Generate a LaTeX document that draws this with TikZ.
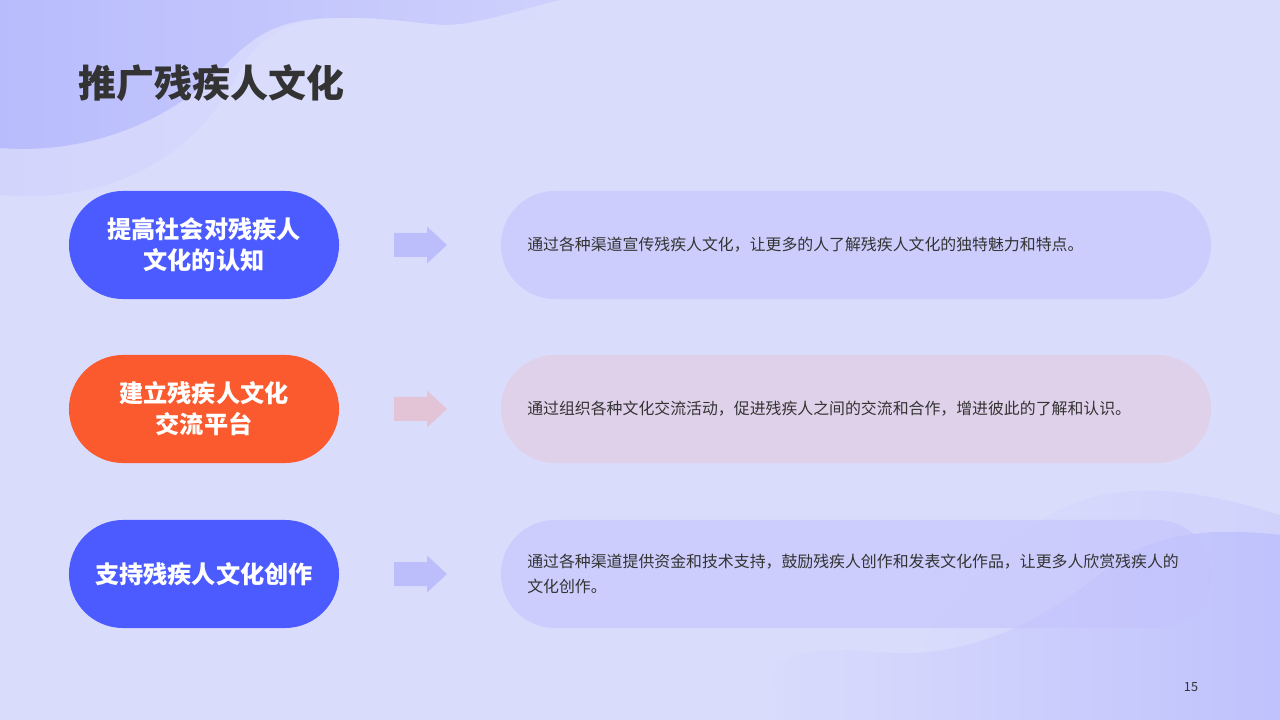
\documentclass[tikz,border=0pt]{standalone}
\usepackage{fontspec}
\setmainfont{Noto Sans CJK SC}
\usepackage{xcolor}
\usetikzlibrary{calc,positioning}
\definecolor{bgpale}{RGB}{218,220,252}
\definecolor{blobdark}{RGB}{184,188,252}
\definecolor{blobmid}{RGB}{206,208,252}
\definecolor{accentblue}{RGB}{75,91,255}
\definecolor{accentorange}{RGB}{250,90,45}
\definecolor{cardblue}{RGB}{196,195,252}
\definecolor{cardpink}{RGB}{228,203,222}
\definecolor{arrowblue}{RGB}{188,190,252}
\definecolor{arrowpink}{RGB}{226,196,214}
\definecolor{inkdark}{RGB}{51,51,51}

\begin{document}
\begin{tikzpicture}[x=0.025cm, y=-0.025cm,
    every node/.style={inner sep=0pt},
    labelpill/.style={rounded corners=1.35cm, minimum width=6.75cm, minimum height=2.7cm,
      text=white, font=\fontsize{17.2}{22}\selectfont\bfseries, align=center},
    descpill/.style={rounded corners=1.35cm, minimum width=17.75cm, minimum height=2.7cm, fill opacity=0.6},
    desctext/.style={text=inkdark, font=\fontsize{11.3}{17.7}\selectfont, align=left, anchor=west}]
  \useasboundingbox (0,0) rectangle (1280,720);
  \fill[bgpale] (0,0) rectangle (1280,720);
  % top left waves
  \shade[left color=blobmid, right color=bgpale, opacity=0.6]
    (0,0) -- (0,195) .. controls (120,205) and (200,150) .. (240,70)
    .. controls (260,35) and (290,18) .. (340,18) -- (560,18) -- (560,0) -- cycle;
  \shade[left color=blobdark, right color=blobmid]
    (0,0) -- (0,148) .. controls (90,155) and (170,120) .. (220,70)
    .. controls (250,40) and (270,20) .. (330,18) .. controls (400,16) and (430,28) .. (460,24)
    .. controls (490,20) and (520,10) .. (560,0) -- cycle;
  % bottom right waves
  \shade[left color=bgpale, right color=blobmid, opacity=0.8]
    (910,653) .. controls (960,600) and (1010,530) .. (1070,505)
    .. controls (1130,480) and (1200,490) .. (1280,515) -- (1280,720) -- (910,720) -- cycle;
  \shade[left color=bgpale, right color=blobdark, opacity=0.7]
    (760,720) -- (777,663) .. controls (820,640) and (870,655) .. (913,653)
    .. controls (990,650) and (1060,610) .. (1110,565)
    .. controls (1160,530) and (1220,528) .. (1280,535) -- (1280,720) -- cycle;

  \node[font=\fontsize{27}{30}\selectfont\bfseries, text=inkdark, anchor=west] (title) at (78,83) {推广残疾人文化};

  \foreach \i/\yy/\lbl/\pillcol/\cardcol/\arrcol/\desc in {
      1/245/{提高社会对残疾人\\文化的认知}/accentblue/cardblue/arrowblue/{通过各种渠道宣传残疾人文化，让更多的人了解残疾人文化的独特魅力和特点。},
      2/409/{建立残疾人文化\\交流平台}/accentorange/cardpink/arrowpink/{通过组织各种文化交流活动，促进残疾人之间的交流和合作，增进彼此的了解和认识。},
      3/574/{支持残疾人文化创作}/accentblue/cardblue/arrowblue/{通过各种渠道提供资金和技术支持，鼓励残疾人创作和发表文化作品，让更多人欣赏残疾人的\\文化创作。}} {
    \node[labelpill, fill=\pillcol] (lab\i) at (204,\yy) {\lbl};
    \node[descpill, fill=\cardcol] (card\i) at (856,\yy) {};
    \node[desctext] (desc\i) at (527,\yy) {\desc};
    \fill[\arrcol] (394,\yy-12) -- (427,\yy-12) -- (427,\yy-18.5) -- (447,\yy)
      -- (427,\yy+18.5) -- (427,\yy+12) -- (394,\yy+12) -- cycle;
  }

  \node[font=\fontsize{9}{10}\selectfont, text=inkdark] (pagenum) at (1191,687) {15};
\end{tikzpicture}
\end{document}
